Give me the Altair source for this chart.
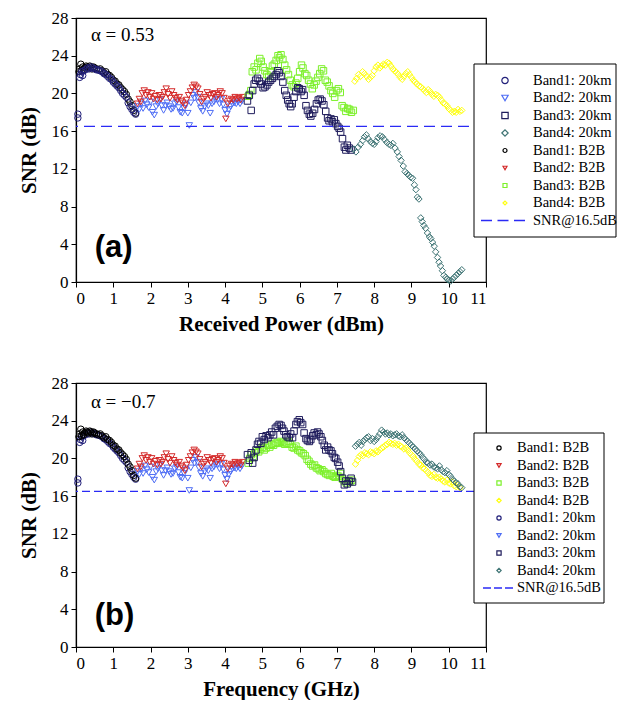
import altair as alt
import pandas as pd

# ---------------- data ----------------
b1_20_x = [0.05,0.05,0.1,0.12,0.15,0.18,0.2,0.25,0.3,0.35,0.4,0.45,0.5,0.55,0.6,0.65,0.7,0.75,0.8,0.85,0.9,0.95,1.0,1.05,1.1,1.15,1.2,1.25,1.3,1.35,1.4,1.45,1.5,1.55,1.6]
b1_20_y = [17.4,17.8,21.7,22.0,22.3,21.9,22.4,22.5,22.7,22.6,22.8,22.7,22.6,22.5,22.5,22.4,22.3,22.1,22.0,21.8,21.6,21.5,21.2,21.0,20.8,20.6,20.3,20.0,19.8,19.6,19.0,18.6,18.3,18.0,17.8]

b1_bb_x = [0.08,0.1,0.13,0.15,0.18,0.2,0.23,0.27,0.3,0.33,0.37,0.4,0.43,0.47,0.5,0.55,0.6,0.65,0.7,0.75,0.8,0.85,0.9,0.95,1.0,1.05,1.1,1.15,1.2,1.25,1.3,1.35,1.4,1.45,1.5,1.55,1.6]
b1_bb_y = [22.3,22.6,23.1,22.4,22.8,22.5,22.7,22.9,22.8,22.7,22.9,22.8,22.6,22.8,22.7,22.6,22.5,22.6,22.4,22.2,22.3,22.0,21.9,21.7,21.4,21.3,21.0,20.9,20.6,20.4,20.2,19.9,19.4,19.1,18.7,18.2,17.9]

b2_20_x = [1.65,1.7,1.75,1.8,1.85,1.9,1.95,2.0,2.05,2.1,2.15,2.2,2.25,2.3,2.35,2.4,2.45,2.5,2.55,2.6,2.65,2.7,2.75,2.8,2.85,2.9,2.95,3.0,3.04,3.08,3.13,3.18,3.22,3.26,3.3,3.35,3.4,3.45,3.5,3.55,3.6,3.65,3.7,3.75,3.8,3.85,3.9,3.95,4.0,4.05,4.1,4.15,4.2,4.25,4.3,4.35,4.4,4.45]
b2_20_y = [18.6,18.3,18.9,18.4,19.2,18.8,18.5,19.1,18.0,17.7,18.6,18.9,19.3,18.7,18.2,18.7,19.0,18.6,18.3,18.4,18.9,19.1,18.5,18.0,17.9,18.4,18.8,17.9,16.6,19.0,19.8,19.5,20.1,19.6,19.0,18.4,18.1,18.6,18.9,18.7,17.9,18.9,19.1,19.4,19.3,18.9,19.4,18.8,18.2,17.8,18.3,18.6,18.9,19.0,18.9,19.1,18.9,19.2]

b2_bb_x = [1.65,1.7,1.74,1.78,1.83,1.88,1.93,1.98,2.03,2.08,2.13,2.18,2.23,2.28,2.32,2.37,2.42,2.47,2.52,2.57,2.62,2.67,2.72,2.77,2.82,2.87,2.92,2.97,3.02,3.07,3.12,3.17,3.22,3.27,3.32,3.37,3.42,3.47,3.52,3.57,3.62,3.67,3.72,3.77,3.82,3.87,3.92,3.97,4.02,4.07,4.12,4.17,4.22,4.27,4.32,4.37,4.42,4.47]
b2_bb_y = [18.9,19.4,19.1,20.0,20.3,19.8,20.1,19.6,20.0,19.4,19.7,19.3,19.8,19.4,19.6,20.1,20.5,19.9,19.5,20.2,19.8,19.5,19.3,19.6,19.2,19.0,18.7,19.3,19.8,20.2,20.6,20.9,20.7,20.5,19.9,19.1,19.4,19.6,20.1,19.8,19.5,19.9,20.0,19.6,19.8,20.2,20.0,19.5,17.3,18.9,19.2,19.4,19.3,19.6,19.4,19.5,19.3,19.6]

# panel (a) bands 3 and 4
a_b3_20_x = [4.6,4.65,4.7,4.74,4.78,4.82,4.87,4.92,4.97,5.02,5.07,5.12,5.17,5.22,5.27,5.32,5.37,5.41,5.45,5.5,5.55,5.6,5.64,5.68,5.72,5.76,5.8,5.85,5.9,5.95,5.99,6.04,6.08,6.12,6.17,6.21,6.26,6.3,6.35,6.4,6.45,6.5,6.55,6.6,6.65,6.7,6.75,6.79,6.84,6.88,6.93,6.97,7.02,7.06,7.1,7.15,7.2,7.24,7.28,7.33,7.38]
a_b3_20_y = [19.2,19.8,18.2,20.3,21.0,21.4,21.6,21.3,21.0,20.6,20.7,20.9,21.2,21.4,21.6,21.8,22.0,22.4,22.2,21.8,21.2,20.3,19.8,19.3,18.9,18.6,18.9,19.6,20.2,20.6,20.5,20.2,20.4,19.8,18.7,18.2,17.8,17.6,17.9,18.3,18.9,19.3,19.4,19.2,18.8,18.1,17.4,17.1,17.3,17.0,17.2,16.8,16.5,16.3,15.9,15.2,14.3,14.0,14.5,14.2,14.0]

a_b3_bb_x = [4.62,4.65,4.69,4.73,4.78,4.83,4.88,4.93,4.97,5.02,5.07,5.12,5.17,5.22,5.27,5.32,5.37,5.42,5.46,5.5,5.55,5.6,5.65,5.7,5.75,5.8,5.85,5.9,5.95,6.0,6.05,6.09,6.14,6.19,6.24,6.29,6.34,6.39,6.44,6.49,6.54,6.59,6.64,6.69,6.74,6.79,6.84,6.89,6.94,6.99,7.04,7.09,7.14,7.19,7.24,7.29,7.34,7.39,7.44]
a_b3_bb_y = [19.7,19.9,20.3,22.3,22.8,22.5,23.2,23.7,23.4,22.8,22.4,22.0,21.8,22.3,22.9,23.1,23.5,24.0,23.8,24.1,23.6,23.0,22.5,22.0,21.4,20.9,20.7,21.1,21.6,22.3,23.0,22.7,22.1,21.9,21.4,21.0,20.5,20.9,21.3,21.7,22.1,22.6,22.4,21.4,21.2,20.8,20.3,20.0,19.6,20.3,20.5,20.1,18.7,18.5,18.1,18.4,18.3,18.0,18.2]

a_b4_20_x = [7.45,7.51,7.57,7.63,7.69,7.74,7.79,7.84,7.9,7.95,8.0,8.05,8.1,8.16,8.22,8.28,8.34,8.4,8.45,8.5,8.56,8.62,8.67,8.72,8.78,8.83,8.88,8.93,8.98,9.03,9.08,9.12,9.16,9.2,9.25,9.29,9.33,9.38,9.43,9.48,9.52,9.57,9.61,9.65,9.7,9.74,9.78,9.83,9.87,9.92,9.96,10.0,10.05,10.1,10.15,10.2,10.25,10.3,10.35]
a_b4_20_y = [14.1,13.8,14.3,14.6,15.0,15.4,15.6,15.2,14.9,14.7,14.6,14.9,15.3,15.5,15.4,15.1,14.8,14.6,14.5,14.7,14.2,13.8,13.3,12.9,12.3,11.7,11.5,11.3,11.1,11.0,10.3,9.8,9.0,8.8,6.8,6.4,6.0,5.7,5.2,4.8,4.6,4.2,3.8,3.2,2.6,2.1,1.7,1.2,0.7,0.5,0.3,0.2,0.1,0.3,0.5,0.7,0.9,1.1,1.3]

a_b4_bb_x = [7.48,7.53,7.58,7.63,7.69,7.74,7.8,7.85,7.9,7.95,8.0,8.05,8.1,8.15,8.2,8.25,8.3,8.35,8.4,8.45,8.5,8.55,8.6,8.65,8.7,8.75,8.8,8.85,8.9,8.95,9.0,9.05,9.1,9.15,9.2,9.25,9.3,9.35,9.4,9.45,9.5,9.55,9.6,9.65,9.7,9.75,9.8,9.85,9.9,9.95,10.0,10.05,10.1,10.15,10.2,10.25,10.3,10.35]
a_b4_bb_y = [21.3,21.6,22.0,21.8,22.3,22.1,21.8,21.5,21.7,21.9,22.4,22.8,23.0,22.7,22.9,23.1,23.0,23.3,23.2,22.9,22.6,22.4,22.2,22.0,21.7,21.5,21.8,22.1,22.3,22.0,21.7,21.4,21.2,21.0,20.8,20.7,20.5,20.3,20.1,20.4,20.2,19.9,19.7,19.9,19.8,19.6,19.3,19.0,18.9,18.7,18.4,18.2,18.0,18.1,18.0,18.3,18.1,18.2]

# panel (b) bands 3 and 4
b_b3_20_x = [4.6,4.65,4.7,4.74,4.78,4.83,4.87,4.91,4.96,5.0,5.05,5.1,5.15,5.2,5.25,5.3,5.35,5.4,5.45,5.5,5.54,5.58,5.63,5.67,5.72,5.76,5.81,5.85,5.9,5.94,5.99,6.03,6.08,6.12,6.17,6.21,6.26,6.3,6.35,6.39,6.44,6.48,6.52,6.57,6.61,6.66,6.7,6.75,6.79,6.84,6.88,6.93,6.97,7.02,7.06,7.1,7.15,7.2,7.24,7.28,7.33,7.38,7.42]
b_b3_20_y = [20.4,19.8,20.6,19.5,20.1,20.9,21.5,21.8,21.6,22.3,22.0,22.4,22.2,22.5,22.8,22.5,23.2,23.4,23.6,23.5,23.2,22.9,22.5,22.3,22.2,22.6,22.2,22.9,23.6,23.9,24.1,23.8,23.6,22.7,22.1,21.9,21.8,22.0,22.4,22.7,22.5,22.8,22.6,22.3,21.9,21.4,20.9,21.2,20.9,20.8,20.5,20.1,20.0,19.6,19.2,18.6,17.9,17.2,17.6,17.3,17.6,17.9,17.5]

b_b3_bb_x = [4.62,4.66,4.7,4.75,4.8,4.85,4.9,4.95,5.0,5.05,5.1,5.15,5.2,5.25,5.3,5.35,5.4,5.45,5.5,5.55,5.6,5.65,5.7,5.75,5.8,5.85,5.9,5.95,6.0,6.05,6.1,6.15,6.2,6.25,6.3,6.35,6.4,6.45,6.5,6.55,6.6,6.65,6.7,6.75,6.8,6.85,6.9,6.95,7.0,7.05,7.1,7.15,7.2,7.25,7.3,7.35,7.4]
b_b3_bb_y = [19.5,20.0,20.4,20.1,20.6,20.8,20.7,21.0,21.2,20.9,21.1,21.4,21.2,21.5,21.4,21.6,21.7,21.6,21.8,21.7,21.5,21.6,21.8,21.5,21.2,21.1,21.3,20.9,20.8,20.6,20.5,20.3,19.9,19.7,19.4,19.2,19.3,19.0,18.9,18.7,18.8,18.6,18.4,18.3,18.2,18.4,18.1,18.0,18.2,18.1,18.4,17.8,17.6,17.4,17.6,17.5,17.7]

b_b4_20_x = [7.5,7.55,7.6,7.65,7.7,7.75,7.8,7.85,7.9,7.95,8.0,8.05,8.1,8.15,8.2,8.25,8.3,8.35,8.4,8.45,8.5,8.55,8.6,8.65,8.7,8.75,8.8,8.85,8.9,8.95,9.0,9.05,9.1,9.15,9.2,9.25,9.3,9.35,9.4,9.45,9.5,9.55,9.6,9.65,9.7,9.75,9.8,9.85,9.9,9.95,10.0,10.05,10.1,10.15,10.2,10.25,10.3,10.35]
b_b4_20_y = [21.3,21.5,21.7,21.4,21.8,22.0,22.2,22.3,21.9,22.1,21.8,22.0,22.3,22.6,23.0,22.8,22.6,22.7,22.5,22.6,22.4,22.5,22.6,22.4,22.3,22.5,22.2,22.0,21.8,21.6,21.4,21.2,21.0,20.8,20.6,20.4,20.1,19.9,19.6,19.5,19.3,19.4,19.1,19.0,18.9,19.2,18.8,18.6,18.5,18.7,18.3,18.1,17.8,17.6,17.4,17.3,17.0,16.9]

b_b4_bb_x = [7.5,7.55,7.6,7.65,7.7,7.75,7.8,7.85,7.9,7.95,8.0,8.05,8.1,8.15,8.2,8.25,8.3,8.35,8.4,8.45,8.5,8.55,8.6,8.65,8.7,8.75,8.8,8.85,8.9,8.95,9.0,9.05,9.1,9.15,9.2,9.25,9.3,9.35,9.4,9.45,9.5,9.55,9.6,9.65,9.7,9.75,9.8,9.85,9.9,9.95,10.0,10.05,10.1,10.15,10.2,10.25,10.3]
b_b4_bb_y = [19.4,19.8,20.2,20.4,20.3,20.6,20.5,20.4,20.7,20.6,20.5,20.8,20.7,20.9,21.1,21.2,21.4,21.5,21.7,21.6,21.5,21.6,21.4,21.5,21.3,21.2,21.0,21.1,20.9,20.6,20.4,20.2,19.9,19.7,19.4,19.3,19.0,18.9,18.7,18.5,18.2,18.1,18.3,18.0,17.9,18.0,17.8,17.6,17.5,17.7,17.4,17.3,17.5,17.1,17.0,17.2,16.9]

threshold = [16.5]

x_ticks = list(range(0, 12))
y_ticks = [0, 4, 8, 12, 16, 20, 24, 28]

LINE = "SNR@16.5dB"
COLORS = {
    "Band1: 20km": "#22207a", "Band2: 20km": "#4f6ef5", "Band3: 20km": "#1f1c5c", "Band4: 20km": "#3e7474",
    "Band1: B2B": "#000000", "Band2: B2B": "#d42a2a", "Band3: B2B": "#7cf02a", "Band4: B2B": "#ffff10",
    LINE: "#2a2af5",
}
SHAPES = {
    "Band1: 20km": "circle", "Band2: 20km": "triangle-down", "Band3: 20km": "square", "Band4: 20km": "diamond",
    "Band1: B2B": "circle", "Band2: B2B": "triangle-down", "Band3: B2B": "square", "Band4: B2B": "diamond",
}

SERIF = "Liberation Serif"


def frame(pairs):
    parts = [pd.DataFrame({"x": xs, "y": ys, "series": n}) for n, xs, ys in pairs]
    return pd.concat(parts, ignore_index=True)


df_a = frame([
    ("Band1: B2B", b1_bb_x, b1_bb_y), ("Band1: 20km", b1_20_x, b1_20_y),
    ("Band2: 20km", b2_20_x, b2_20_y), ("Band2: B2B", b2_bb_x, b2_bb_y),
    ("Band3: B2B", a_b3_bb_x, a_b3_bb_y), ("Band3: 20km", a_b3_20_x, a_b3_20_y),
    ("Band4: B2B", a_b4_bb_x, a_b4_bb_y), ("Band4: 20km", a_b4_20_x, a_b4_20_y),
])
df_b = frame([
    ("Band1: 20km", b1_20_x, b1_20_y), ("Band1: B2B", b1_bb_x, b1_bb_y),
    ("Band2: 20km", b2_20_x, b2_20_y), ("Band2: B2B", b2_bb_x, b2_bb_y),
    ("Band3: B2B", b_b3_bb_x, b_b3_bb_y), ("Band3: 20km", b_b3_20_x, b_b3_20_y),
    ("Band4: B2B", b_b4_bb_x, b_b4_bb_y), ("Band4: 20km", b_b4_20_x, b_b4_20_y),
])

order_a = ["Band1: 20km", "Band2: 20km", "Band3: 20km", "Band4: 20km",
           "Band1: B2B", "Band2: B2B", "Band3: B2B", "Band4: B2B", LINE]
order_b = ["Band1: B2B", "Band2: B2B", "Band3: B2B", "Band4: B2B",
           "Band1: 20km", "Band2: 20km", "Band3: 20km", "Band4: 20km", LINE]


def legend_layers(order, box, x_sym, x_lab, y0, step, dash_x, dash, sizes):
    """Framed legend drawn inside the panel (layout positions in pixels)."""
    layers = [alt.Chart(pd.DataFrame({"k": [0]})).mark_rect(
        fill="white", stroke="black", strokeWidth=1).encode(
        x=alt.value(box[0]), x2=alt.value(box[1]), y=alt.value(box[2]), y2=alt.value(box[3]))]
    for i, name in enumerate(order):
        yy = y0 + step * i
        d = pd.DataFrame({"label": [name]})
        if name == LINE:
            layers.append(alt.Chart(d).mark_rule(color=COLORS[LINE], strokeDash=dash, strokeWidth=1.3).encode(
                x=alt.value(dash_x[0]), x2=alt.value(dash_x[1]), y=alt.value(yy)))
        else:
            layers.append(alt.Chart(d).mark_point(
                shape=SHAPES[name], color=COLORS[name], filled=False, opacity=1,
                size=sizes[0] if "20km" in name else sizes[1], strokeWidth=1.2).encode(
                x=alt.value(x_sym), y=alt.value(yy)))
        layers.append(alt.Chart(d).mark_text(
            align="left", baseline="middle", font=SERIF, fontSize=14.5, color="black").encode(
            x=alt.value(x_lab), y=alt.value(yy), text="label:N"))
    return layers


def panel(df, order, dash, xtitle, alpha_txt, alpha_y, tag, tag_y, leg):
    xs = alt.Scale(domain=[0, 11], nice=False)
    ys = alt.Scale(domain=[0, 28], nice=False)
    xax = alt.Axis(values=x_ticks, title=xtitle, format="d", labelFont=SERIF, titleFont=SERIF,
                   labelFontSize=17, titleFontSize=21, titleFontWeight="bold", titlePadding=7)
    yax = alt.Axis(values=y_ticks, title="SNR (dB)", format="d", labelFont=SERIF, titleFont=SERIF,
                   labelFontSize=17, titleFontSize=21, titleFontWeight="bold", titlePadding=12)
    names = [s for s in order if s != LINE]
    pts = alt.Chart(df).mark_point(filled=False, size=42, strokeWidth=1, opacity=1).encode(
        x=alt.X("x:Q", scale=xs, axis=xax),
        y=alt.Y("y:Q", scale=ys, axis=yax),
        color=alt.Color("series:N", scale=alt.Scale(domain=names, range=[COLORS[s] for s in names]),
                        legend=None),
        shape=alt.Shape("series:N", scale=alt.Scale(domain=names, range=[SHAPES[s] for s in names]),
                        legend=None),
    )
    rule = alt.Chart(pd.DataFrame({"t": threshold})).mark_rule(
        color=COLORS[LINE], strokeDash=dash, strokeWidth=1.3).encode(
        y=alt.Y("t:Q", scale=ys, axis=yax))
    atext = alt.Chart(pd.DataFrame({"s": [alpha_txt]})).mark_text(
        align="left", baseline="middle", font=SERIF, fontSize=19, color="black").encode(
        x=alt.XDatum(0.4, type="quantitative", scale=xs, axis=xax),
        y=alt.YDatum(alpha_y, type="quantitative", scale=ys, axis=yax), text="s:N")
    ttext = alt.Chart(pd.DataFrame({"s": [tag]})).mark_text(
        align="left", baseline="middle", font="Liberation Sans", fontSize=31, fontWeight="bold",
        color="black").encode(
        x=alt.XDatum(0.5, type="quantitative", scale=xs, axis=xax),
        y=alt.YDatum(tag_y, type="quantitative", scale=ys, axis=yax), text="s:N")
    return alt.layer(pts, rule, atext, ttext, *leg).properties(width=410, height=264)


leg_a = legend_layers(order_a, (398, 540, 46, 219), 429, 457, 62.5, 17.5, (405, 449), [11, 5.5], (40, 16))
leg_b = legend_layers(order_b, (398, 528, 50, 220), 423, 441, 65, 17.5, (407, 437), [8, 3], (18, 18))

pa = panel(df_a, order_a, [11, 6], "Received Power (dBm)", "α = 0.53", 26.2, "(a)", 3.6, leg_a)
pb = panel(df_b, order_b, [8, 4], "Frequency (GHz)", "α = −0.7", 26.0, "(b)", 3.3, leg_b)

chart = alt.vconcat(pa, pb, spacing=38).resolve_scale(
    color="independent", shape="independent").properties(
    padding={"left": 9, "top": 0, "right": 0, "bottom": 0}
).configure_view(stroke="black", strokeWidth=1.2).configure_axis(
    grid=False, domainColor="black", tickColor="black", labelColor="black", titleColor="black",
    labelFont=SERIF, titleFont=SERIF, tickSize=5, labelPadding=3, domainWidth=1.2
)

chart.save("out.html", embed_options={"renderer": "svg", "actions": False})
